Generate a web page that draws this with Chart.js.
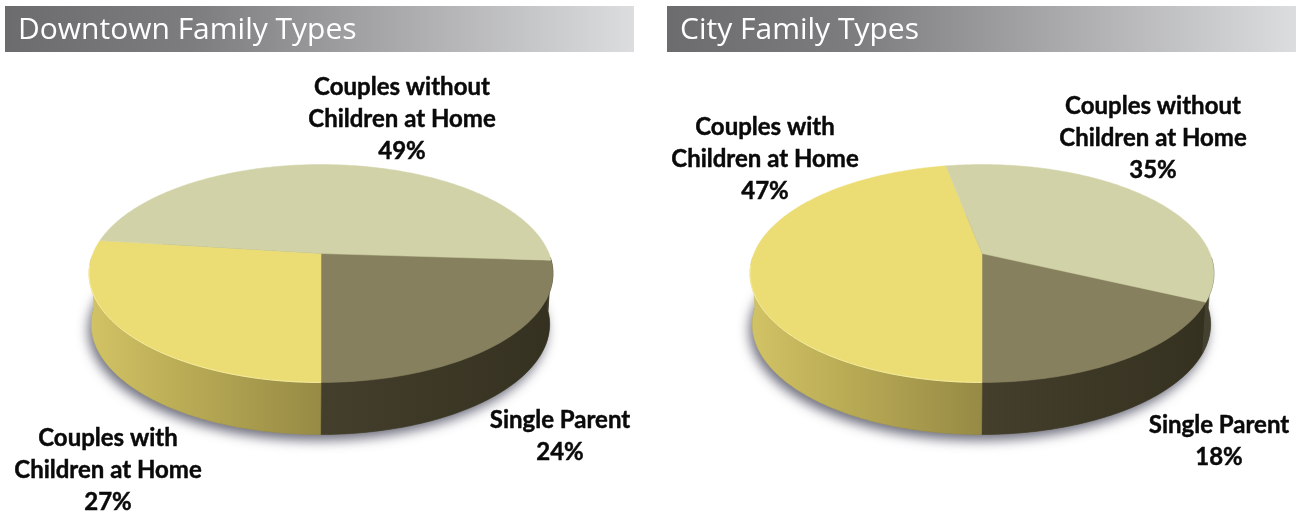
<!DOCTYPE html>
<html><head><meta charset="utf-8">
<script src="https://cdn.jsdelivr.net/npm/chart.js@4/dist/chart.umd.min.js"></script>
<style>html,body{margin:0;padding:0;background:#fff;overflow:hidden}
#w{position:relative;width:1302px;height:514px}
.c{position:absolute;top:0;width:651px;height:514px}</style></head>
<body><div id="w"><div class="c" style="left:0"><canvas id="a"></canvas></div><div class="c" style="left:651px"><canvas id="b"></canvas></div></div>
<script>
const sliceNames = ["Single Parent", "Couples with Children at Home", "Couples without Children at Home"];
const downtownValues = [24, 27, 49];
const cityValues = [18, 47, 35];
const downtownTitle = "Downtown Family Types";
const cityTitle = "City Family Types";
const topColors = ["#87805F", "#ECDC74", "#D1D2A7"];

const LABEL_FONT = 'bold 24px Lato';
const TITLE_FONT = '30px "Open Sans"';

function hexWall(i){
  return i===0 ? [[0,'#443F2C'],[1,'#353120']] :
         i===1 ? [[0,'#D2C366'],[0.35,'#BDAF57'],[1,'#968A45']] :
                 [[0,'#454130'],[1,'#454130']];
}

const pie3d = {
  id:'pie3d',
  beforeDatasetsDraw(chart){
    const ctx = chart.ctx, arcs = chart.getDatasetMeta(0).data;
    const {x:cx,y:cy,outerRadius:r} = arcs[0].getProps(['x','y','outerRadius'],true);
    const c=-0.1835, ay=105.3;
    const P=(t,k=0)=>{ // perspective projection of a disc point; k=1 is the base
      const X=Math.cos(t),Y=Math.sin(t),w=1+c*Y;
      const px=r*X/w, py=ay*Y/w;
      return k? [cx+px*0.988-0.5, cy+py*1.012+50.5] : [cx+px, cy+py];
    };
    const sweep=(a,b,k,path)=>{const n=Math.max(8,Math.ceil(Math.abs(b-a)*60));
      for(let j=0;j<=n;j++){const t=a+(b-a)*j/n,[x,y]=P(t,k);path(x,y,j);}};
    // shadow under the base
    ctx.save();
    ctx.shadowColor='rgba(65,65,85,0.75)';ctx.shadowBlur=12;ctx.shadowOffsetX=-3;ctx.shadowOffsetY=6;
    ctx.fillStyle='#6a6a50';ctx.beginPath();
    sweep(0,Math.PI*2,1,(x,y,j)=>j?ctx.lineTo(x,y):ctx.moveTo(x,y));ctx.closePath();ctx.fill();
    ctx.restore();
    // walls: only the runs of the rim that face the viewer
    arcs.forEach((arc,i)=>{
      const {startAngle:a,endAngle:b}=arc.getProps(['startAngle','endAngle'],true);
      let xs=[];sweep(a,b,0,(x)=>xs.push(x));
      const x0=Math.min(...xs),x1=Math.max(...xs);
      const g=ctx.createLinearGradient(x0,0,x1,0);
      hexWall(i).forEach(s=>g.addColorStop(s[0],s[1]));
      ctx.fillStyle=g;ctx.strokeStyle=g;ctx.lineWidth=.6;
      const n=Math.ceil((b-a)*80),runs=[];let run=null;
      for(let j=0;j<=n;j++){
        const t=a+(b-a)*j/n;
        if(Math.sin(t)<0.03){run=null;continue;}
        if(!run){run=[];runs.push(run);}
        run.push(t);
      }
      runs.forEach(ts=>{
        if(ts.length<2)return;
        ctx.beginPath();
        ts.forEach((t,j)=>{const p=P(t);j?ctx.lineTo(p[0],p[1]):ctx.moveTo(p[0],p[1]);});
        ts.slice().reverse().forEach(t=>{const p=P(t,1);ctx.lineTo(p[0],p[1]);});
        ctx.closePath();ctx.fill();ctx.stroke();
      });
    });
    // top face
    arcs.forEach((arc,i)=>{
      const {startAngle:a,endAngle:b}=arc.getProps(['startAngle','endAngle'],true);
      ctx.fillStyle=arc.options.backgroundColor;ctx.strokeStyle=arc.options.backgroundColor;ctx.lineWidth=.5;
      ctx.beginPath();ctx.moveTo(cx,cy);
      sweep(a,b,0,(x,y)=>ctx.lineTo(x,y));
      ctx.closePath();ctx.fill();ctx.stroke();
      if(i===1){ // thin lit rim on the front edge of the yellow slice
        ctx.strokeStyle='rgba(250,242,170,0.8)';ctx.lineWidth=1;ctx.beginPath();
        sweep(a,b,0,(x,y,j)=>{const t=a+(b-a)*j/Math.max(8,Math.ceil(Math.abs(b-a)*60));
          if(Math.sin(t)>0.1)ctx.lineTo(x,y);});
        ctx.stroke();
      }
    });
    return false;
  },
  afterDraw(chart){
    const ctx=chart.ctx,o=chart.options.plugins.pie3d;
    ctx.save();
    const g=ctx.createLinearGradient(o.bar[0],0,o.bar[0]+o.bar[2],0);
    g.addColorStop(0,'#6C6C6F');g.addColorStop(.3,'#7D7D80');g.addColorStop(1,'#DCDDDE');
    ctx.fillStyle=g;ctx.fillRect(o.bar[0],o.bar[1],o.bar[2],o.bar[3]);
    ctx.fillStyle='#fff';ctx.font=TITLE_FONT;ctx.textAlign='left';ctx.textBaseline='middle';
    ctx.fillText(o.title,o.bar[0]+13,o.bar[1]+24);
    ctx.fillStyle='#0a0a0a';ctx.strokeStyle='#0a0a0a';ctx.lineWidth=.45;ctx.font=LABEL_FONT;ctx.textAlign='center';
    o.labels.forEach(l=>{
      l.lines.forEach((t,k)=>{ctx.fillText(t,l.x,l.y+k*32);ctx.strokeText(t,l.x,l.y+k*32);});
    });
    ctx.restore();
  }
};

function labelBlocks(values,pos){
  return [
    {lines:["Single Parent",values[0]+"%"],x:pos[0][0],y:pos[0][1]},
    {lines:["Couples with","Children at Home",values[1]+"%"],x:pos[1][0],y:pos[1][1]},
    {lines:["Couples without","Children at Home",values[2]+"%"],x:pos[2][0],y:pos[2][1]}
  ];
}
function make(id,values,title,pad,bar,pos){
  const startDeg=90-values[0]*3.6; // Single Parent ends at the bottom of the disc
  new Chart(document.getElementById(id),{
    type:'pie',
    data:{labels:sliceNames,datasets:[{data:values,backgroundColor:topColors,borderWidth:0}]},
    options:{
      responsive:false,animation:false,rotation:startDeg+90,
      layout:{padding:pad},
      plugins:{legend:{display:false},tooltip:{enabled:false},title:{display:false},
        pie3d:{title,bar,labels:labelBlocks(values,pos)}}
    },
    plugins:[pie3d]
  });
}
for(const id of ['a','b']){const c=document.getElementById(id);c.width=651;c.height=514;}
make('a',downtownValues,downtownTitle,{left:93,right:102,top:25,bottom:32},[5,6,629,46],
  [[560,420],[108,438],[402,87]]);
make('b',cityValues,cityTitle,{left:103,right:92,top:25,bottom:32},[16,6,629,46],
  [[568,425],[114,127],[502,106]]);
</script></body></html>
